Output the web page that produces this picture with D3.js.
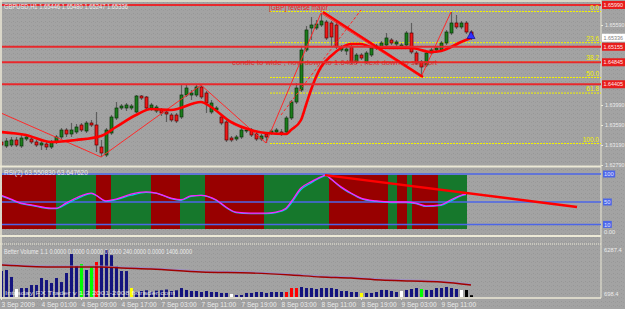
<!DOCTYPE html>
<html><head><meta charset="utf-8">
<script src="https://cdn.jsdelivr.net/npm/d3@7"></script>
<style>
html,body{margin:0;padding:0;background:#a3a3a3;overflow:hidden}
svg{display:block}
text{font-family:"Liberation Sans",Arial,sans-serif}
</style></head><body>
<svg id="c" width="625" height="309"></svg>
<script>
// ---------------- DATA ----------------
const symbolTitle = "GBPUSD,H1  1.65446 1.65480 1.65247 1.65336";
const timeLabels = ["3 Sep 2009","4 Sep 01:00","4 Sep 09:00","4 Sep 17:00","7 Sep 03:00","7 Sep 11:00","7 Sep 19:00","8 Sep 03:00","8 Sep 11:00","8 Sep 19:00","9 Sep 03:00","9 Sep 11:00"];
const timeTickBars = [0,8,16,24,32,40,48,56,64,72,80,88];
const priceTicks = [1.6559,1.6399,1.6359,1.6319,1.6279];

const open  = [1.6325,1.6317,1.6319,1.6329,1.6317,1.6331,1.6331,1.6325,1.6319,1.6321,1.6315,1.6325,1.6335,1.6349,1.6341,1.6345,1.6359,1.6347,1.6363,1.6359,1.6315,1.6299,1.6343,1.6373,1.6393,1.6393,1.6393,1.6385,1.6417,1.6415,1.6393,1.6387,1.6389,1.6385,1.6379,1.6379,1.6375,1.6419,1.6419,1.6419,1.6435,1.6423,1.6385,1.6389,1.6375,1.6365,1.6333,1.6331,1.6335,1.6347,1.6349,1.6341,1.6331,1.6341,1.6343,1.6345,1.6345,1.6345,1.6373,1.6405,1.6429,1.6509,1.6553,1.6553,1.6559,1.6565,1.6563,1.6559,1.6509,1.6507,1.6515,1.6485,1.6499,1.6485,1.6499,1.6513,1.6513,1.6519,1.6529,1.6521,1.6515,1.6519,1.6543,1.6503,1.6485,1.6479,1.6503,1.6509,1.6509,1.6523,1.6543,1.6563,1.6555,1.6563,1.6545];
const high  = [1.6331,1.6333,1.6335,1.6335,1.6339,1.6339,1.6335,1.6329,1.6327,1.6325,1.6329,1.6339,1.6353,1.6353,1.6363,1.6361,1.6363,1.6367,1.6369,1.6385,1.6329,1.6353,1.6379,1.6405,1.6401,1.6403,1.6401,1.6419,1.6419,1.6417,1.6403,1.6399,1.6393,1.6389,1.6383,1.6383,1.6439,1.6439,1.6429,1.6441,1.6439,1.6427,1.6409,1.6397,1.6379,1.6369,1.6337,1.6339,1.6353,1.6353,1.6353,1.6345,1.6341,1.6345,1.6351,1.6353,1.6351,1.6377,1.6409,1.6443,1.6515,1.6557,1.6575,1.6569,1.6583,1.6569,1.6567,1.6565,1.6519,1.6515,1.6519,1.6503,1.6503,1.6507,1.6517,1.6521,1.6527,1.6543,1.6533,1.6529,1.6523,1.6547,1.6563,1.6507,1.6489,1.6507,1.6513,1.6517,1.6527,1.6549,1.6585,1.6579,1.6567,1.6567,1.6549];
const low   = [1.6309,1.6313,1.6315,1.6315,1.6313,1.6327,1.6321,1.6315,1.6309,1.6309,1.6311,1.6321,1.6331,1.6335,1.6335,1.6341,1.6345,1.6343,1.6355,1.6305,1.6295,1.6295,1.6339,1.6369,1.6389,1.6387,1.6389,1.6383,1.6409,1.6389,1.6387,1.6383,1.6377,1.6365,1.6365,1.6363,1.6371,1.6415,1.6409,1.6415,1.6411,1.6383,1.6381,1.6385,1.6359,1.6325,1.6325,1.6327,1.6331,1.6343,1.6335,1.6327,1.6327,1.6323,1.6339,1.6341,1.6337,1.6341,1.6369,1.6401,1.6425,1.6505,1.6529,1.6549,1.6555,1.6529,1.6515,1.6511,1.6505,1.6499,1.6481,1.6481,1.6489,1.6481,1.6495,1.6509,1.6509,1.6515,1.6519,1.6517,1.6511,1.6515,1.6501,1.6479,1.6455,1.6475,1.6499,1.6505,1.6505,1.6519,1.6539,1.6551,1.6551,1.6541,1.6529];
const close = [1.6319,1.6327,1.6329,1.6319,1.6333,1.6335,1.6325,1.6319,1.6323,1.6315,1.6325,1.6335,1.6349,1.6341,1.6349,1.6355,1.6349,1.6363,1.6359,1.6319,1.6303,1.6349,1.6375,1.6393,1.6397,1.6399,1.6397,1.6417,1.6413,1.6393,1.6399,1.6395,1.6383,1.6381,1.6369,1.6367,1.6419,1.6433,1.6423,1.6435,1.6415,1.6403,1.6403,1.6393,1.6363,1.6329,1.6329,1.6335,1.6349,1.6349,1.6339,1.6331,1.6337,1.6335,1.6347,1.6349,1.6341,1.6373,1.6405,1.6433,1.6509,1.6549,1.6559,1.6561,1.6567,1.6533,1.6535,1.6515,1.6515,1.6511,1.6485,1.6499,1.6493,1.6503,1.6513,1.6517,1.6523,1.6533,1.6523,1.6525,1.6519,1.6543,1.6505,1.6483,1.6475,1.6503,1.6509,1.6513,1.6523,1.6545,1.6563,1.6555,1.6563,1.6545,1.6535];

// moving average (bar, price)
const maPoints = [[0,1.6345],[5,1.6339],[10,1.6325],[15,1.6329],[20,1.6337],[23,1.6355],[27,1.6379],[30,1.6391],[34,1.6389],[40,1.6405],[42,1.6395],[46,1.6365],[50,1.6349],[53,1.6343],[57,1.6341],[58,1.6349],[60,1.6369],[61,1.6399],[62,1.6429],[63,1.6455],[64,1.6475],[66,1.6497],[68,1.6513],[70,1.6521],[72,1.6521],[74,1.6515],[78,1.6513],[82,1.6513],[86,1.6505],[88,1.6507],[90,1.6515],[92,1.6525],[94,1.6533]];
const zigzag = [[0,1.6383],[20,1.6295],[40,1.6439],[53,1.6323],[64,1.6583],[84,1.6455],[90,1.6585]];
const downTrend = [[64.4,1.6585],[84.4,1.6455]];
const channelLine = [[56,1.6379],[72,1.6589]];
const hLevels = [1.6599,1.65155,1.64845,1.64405];
const hLevelLabels = ["1.65990","1.65155","1.64845","1.64405"];
const fibLevels = [0,23.6,38.2,50,61.8,100];
const fibHigh = 1.6587, fibLow = 1.6323, fibStartBar = 53.8;
const lastPrice = 1.65336;
const noteTop = "[GBP] reverse major";
const noteMid = "condic to wide , now down to 1.6480 , next down to support";

// RSI panel
const rsiTitle = "RSI(2) 63.550830 63.647620";
const rsiMain = [[0,62],[2,55],[4,48],[6,45],[10,39],[11,39],[13,48],[16,61],[18,66],[19,62],[21,52],[23,55],[26,64],[29,68],[31,66],[34,57],[36,54],[38,61],[40,62],[43,54],[45,41],[47,32],[50,30],[53,30],[55,32],[57,39],[58,50],[60,75],[62,86],[64,95],[65,98],[66,91],[68,77],[70,66],[72,57],[75,52],[78,50],[81,50],[83,48],[85,43],[88,45],[90,54],[92,62],[93,64]];
const rsiSignal = [[0,61],[2,54],[4,47],[6,44],[10,38],[11,38],[13,46],[16,59],[18,65],[19,62],[21,51],[23,54],[26,62],[29,67],[31,66],[34,56],[36,53],[38,60],[40,62],[43,53],[45,40],[47,31],[50,29],[53,29],[55,31],[57,37],[58,47],[60,72],[62,84],[64,94],[65,97],[66,91],[68,76],[70,65],[72,56],[75,51],[78,49],[81,49],[83,47],[85,42],[88,44],[90,52],[92,61],[93,63]];
const rsiLevels = [100,50,10];
const rsiZoneEdges = [0.2,11,19,22,30,35.8,40.8,52.6,65.6,77.4,79.2,81.2,82.2,87.4,93.2];
const rsiZoneKinds = ["r","g","r","g","r","g","r","g","r","g","r","g","r","g"];
const rsiTrend = [[64.8,98],[115.2,41]];

// Volume panel
const volTitle = "Better Volume 1.1 0.0000 0.0000 0.0000 0.0000 240.0000 0.0000 1406.0000";
const volume = [3480,3610,2680,1070,1200,1200,1600,1610,2540,2270,1870,2540,2000,3210,5750,4150,4410,3610,4010,4680,5620,6287,5600,4140,3480,3470,1200,670,800,900,700,850,900,1000,800,900,1200,940,800,800,670,800,670,670,540,540,400,270,270,540,540,670,670,540,670,670,670,670,1200,1200,1340,1200,1200,1070,1200,1200,1200,1070,800,800,670,670,540,540,540,670,940,940,800,670,800,940,1070,1200,1070,940,940,1200,1200,1340,1200,1070,940,940,240];
const volKind = "nnnwnnnnnnnnnnnngngrnnnnnnynnnnnnnnnnnnnnnnnnnwnnnnnnnnnnrrrnnnnnnnnnnnnynnnnnnnwnnngnnnnnnnw".split("");
const volMA = [[0,4280],[10,4010],[20,4010],[24,3880],[30,3750],[40,3350],[50,3210],[58,2940],[64,2680],[70,2540],[76,2270],[82,2140],[88,2010],[94,1600]];
const volTickLabels = ["6287.4","698.4"];
const volFooter = "Intraday FX Trader v 1.3 2001-2008 fxtrader.com";

// ---------------- DRAW ----------------
const W = 625, H = 309, AX = 601;
const svg = d3.select("#c");
const x  = d3.scaleLinear().domain([0,94]).range([1,471]);
const yP = d3.scaleLinear().domain([1.6279,1.6559]).range([165,25]);
const yR = d3.scaleLinear().domain([0,100]).range([230,174]);
const yV = d3.scaleLinear().domain([0,6287.4]).range([297,250]);
const frame = "#ece9d6", txt = "#ececec";
const FS = 5.8;

const defs = svg.append("defs");
const pat = defs.append("pattern").attr("id","tex").attr("width",4).attr("height",4).attr("patternUnits","userSpaceOnUse");
pat.append("rect").attr("x",1).attr("y",1).attr("width",1).attr("height",1).attr("fill","#969696");
pat.append("rect").attr("x",3).attr("y",2).attr("width",1).attr("height",1).attr("fill","#9a9a9a");
defs.append("clipPath").attr("id","cMain").append("rect").attr("x",2).attr("y",2).attr("width",AX-2).attr("height",164);
defs.append("clipPath").attr("id","cRsi").append("rect").attr("x",2).attr("y",169).attr("width",AX-2).attr("height",66);
defs.append("clipPath").attr("id","cVol").append("rect").attr("x",2).attr("y",245).attr("width",AX-2).attr("height",52);

svg.append("rect").attr("width",W).attr("height",H).attr("fill","#a3a3a3");
svg.append("rect").attr("width",W).attr("height",H).attr("fill","url(#tex)");

// frame lines
const fr = svg.append("g");
[[0,1,AX,1,1.5],[0,166.5,AX,166.5,2],[0,236,AX,236,2],[0,298,AX,298,1.5]].forEach(d=>{
  fr.append("line").attr("x1",d[0]).attr("y1",d[1]).attr("x2",d[2]).attr("y2",d[3]).attr("stroke",frame).attr("stroke-width",d[4]);
});
fr.append("line").attr("x1",0).attr("y1",244).attr("x2",AX).attr("y2",244).attr("stroke",frame).attr("stroke-dasharray","1,1");
fr.append("line").attr("x1",1).attr("y1",0).attr("x2",1).attr("y2",298).attr("stroke",frame).attr("stroke-width",1.5);
fr.append("line").attr("x1",AX).attr("y1",0).attr("x2",AX).attr("y2",298).attr("stroke",frame).attr("stroke-width",1);

// ---- main panel ----
const gm = svg.append("g").attr("clip-path","url(#cMain)");
fibLevels.forEach(l=>{
  const p = fibHigh - (fibHigh-fibLow)*l/100;
  gm.append("line").attr("x1",x(fibStartBar)).attr("x2",AX).attr("y1",yP(p)+0.5).attr("y2",yP(p)+0.5)
    .attr("stroke","#f2f200").attr("stroke-width",1).attr("stroke-dasharray","2,1");
});
const idx = d3.range(open.length);
gm.selectAll("line.wick").data(idx).join("line").attr("class","wick")
  .attr("x1",i=>x(i)+0.5).attr("x2",i=>x(i)+0.5).attr("y1",i=>yP(high[i])).attr("y2",i=>yP(low[i]))
  .attr("stroke","#5e5e5e").attr("stroke-width",1.2);
gm.selectAll("rect.body").data(idx).join("rect").attr("class","body")
  .attr("x",i=>x(i)-1).attr("width",3)
  .attr("y",i=>yP(Math.max(open[i],close[i])))
  .attr("height",i=>Math.max(1,Math.abs(yP(open[i])-yP(close[i]))))
  .attr("fill",i=>close[i]>=open[i]?"#1b7d1b":"#f01818")
  .attr("stroke",i=>close[i]>=open[i]?"#0a300a":"#5a0000").attr("stroke-width",0.7);
const lineP = d3.line().x(d=>x(d[0])).y(d=>yP(d[1]));
gm.append("path").attr("d",lineP(zigzag)).attr("fill","none").attr("stroke","#ff2a2a").attr("stroke-width",1);
gm.append("path").attr("d",lineP(channelLine)).attr("fill","none").attr("stroke","#ff2a2a").attr("stroke-width",1).attr("stroke-dasharray","3,2");
gm.append("path").attr("d",d3.line().x(d=>x(d[0])).y(d=>yP(d[1])).curve(d3.curveMonotoneX)(maPoints))
  .attr("fill","none").attr("stroke","#ff0000").attr("stroke-width",2.6);
hLevels.forEach(p=>{
  gm.append("line").attr("x1",2).attr("x2",AX).attr("y1",yP(p)).attr("y2",yP(p)).attr("stroke","#e8282c").attr("stroke-width",2);
});
gm.append("path").attr("d",lineP(downTrend)).attr("fill","none").attr("stroke","#ff0000").attr("stroke-width",2.4);
fibLevels.forEach(l=>{
  const p = fibHigh - (fibHigh-fibLow)*l/100;
  gm.append("text").attr("x",599).attr("y",yP(p)-1.5).attr("text-anchor","end").attr("font-size",6.5)
    .attr("fill","#f2f200").text(d3.format(".1f")(l));
});
gm.append("text").attr("x",269).attr("y",9.5).attr("font-size",6.5).attr("fill","#ee2020").text(noteTop);
gm.append("text").attr("x",232).attr("y",65).attr("font-size",7).attr("fill","#e02020").attr("opacity",0.85)
  .attr("textLength",205).attr("lengthAdjust","spacingAndGlyphs").text(noteMid);
const ax0 = x(94), ay0 = yP(1.6546);
gm.append("path").attr("d",`M${ax0},${ay0} l4,7 l-8,0 z`).attr("fill","#3030ff").attr("stroke","#000090").attr("stroke-width",0.6);
svg.append("text").attr("x",4).attr("y",9).attr("font-size",6.5).attr("fill",txt)
  .attr("textLength",124).attr("lengthAdjust","spacingAndGlyphs").text(symbolTitle);

// price axis
const pa = svg.append("g").attr("transform",`translate(${AX},0)`)
  .call(d3.axisRight(yP).tickValues(priceTicks).tickSize(2).tickPadding(2).tickFormat(d3.format(".5f")));
pa.select(".domain").remove();
pa.selectAll("line").attr("stroke",frame);
pa.selectAll("text").attr("fill",txt).attr("font-size",FS).attr("font-family","Liberation Sans")
  .attr("textLength",19.5).attr("lengthAdjust","spacingAndGlyphs");
hLevels.forEach((p,i)=>{
  svg.append("rect").attr("x",602).attr("y",yP(p)-4).attr("width",23).attr("height",8).attr("fill","#e81c1c");
  svg.append("text").attr("x",603.5).attr("y",yP(p)+2.1).attr("font-size",FS).attr("fill","#ffe8e8")
    .attr("textLength",19.5).attr("lengthAdjust","spacingAndGlyphs").text(hLevelLabels[i]);
});
svg.append("rect").attr("x",602).attr("y",yP(lastPrice)-4).attr("width",23).attr("height",8).attr("fill","#ffffff");
svg.append("text").attr("x",603.5).attr("y",yP(lastPrice)+2.1).attr("font-size",FS).attr("fill","#808080")
  .attr("textLength",19.5).attr("lengthAdjust","spacingAndGlyphs").text(d3.format(".5f")(lastPrice));

// ---- RSI panel ----
const gr = svg.append("g").attr("clip-path","url(#cRsi)");
rsiZoneKinds.forEach((k,i)=>{
  gr.append("rect").attr("x",x(rsiZoneEdges[i])).attr("width",x(rsiZoneEdges[i+1])-x(rsiZoneEdges[i]))
    .attr("y",yR(100)+1).attr("height",yR(0)-yR(100)-2).attr("fill",k==="r"?"#980000":"#16782c");
});
rsiLevels.forEach(l=>{
  gr.append("line").attr("x1",2).attr("x2",AX).attr("y1",yR(l)).attr("y2",yR(l)).attr("stroke","#4c66e8").attr("stroke-width",1.5);
});
const lineR = d3.line().x(d=>x(d[0])).y(d=>yR(d[1])).curve(d3.curveMonotoneX);
gr.append("path").attr("d",lineR(rsiSignal)).attr("fill","none").attr("stroke","#00d0f0").attr("stroke-width",1.2);
gr.append("path").attr("d",lineR(rsiMain)).attr("fill","none").attr("stroke","#ff20ff").attr("stroke-width",1.3);
gr.append("path").attr("d",d3.line().x(d=>x(d[0])).y(d=>yR(d[1]))(rsiTrend)).attr("fill","none").attr("stroke","#ff0000").attr("stroke-width",2.4);
svg.append("text").attr("x",4).attr("y",175).attr("font-size",6.5).attr("fill",txt).text(rsiTitle);
rsiLevels.forEach(l=>{
  const t = String(l);
  svg.append("rect").attr("x",603).attr("y",yR(l)-3.5).attr("width",t.length*3.4+2).attr("height",7).attr("fill","#4c66e8");
  svg.append("text").attr("x",604).attr("y",yR(l)+2.2).attr("font-size",FS).attr("fill","#e0e4ff").text(t);
});
svg.append("text").attr("x",604).attr("y",yR(0)+3.5).attr("font-size",FS).attr("fill",txt).text("0.00");

// ---- Volume panel ----
const gv = svg.append("g").attr("clip-path","url(#cVol)");
const vColor = {n:"#14147e", w:"#ffffff", g:"#00ff00", r:"#ff0000", y:"#ffff00"};
gv.selectAll("rect.vb").data(idx).join("rect").attr("class","vb")
  .attr("x",i=>x(i)-1).attr("width",3).attr("y",i=>yV(volume[i])).attr("height",i=>yV(0)-yV(volume[i]))
  .attr("fill",i=>vColor[volKind[i]]);
const lineV = d3.line().x(d=>x(d[0])).y(d=>yV(d[1])).curve(d3.curveMonotoneX);
gv.append("path").attr("d",lineV(volMA)).attr("fill","none").attr("stroke","#9a88c8").attr("stroke-width",1).attr("transform","translate(0,-1)");
gv.append("path").attr("d",lineV(volMA)).attr("fill","none").attr("stroke","#a00000").attr("stroke-width",1.4);
svg.append("text").attr("x",4).attr("y",254).attr("font-size",6.5).attr("fill",txt)
  .attr("textLength",188).attr("lengthAdjust","spacingAndGlyphs").text(volTitle);
svg.append("text").attr("x",5).attr("y",295).attr("font-size",6).attr("fill","#ffffff").attr("opacity",0.75)
  .attr("textLength",170).attr("lengthAdjust","spacingAndGlyphs").text(volFooter);
svg.append("text").attr("x",604).attr("y",yV(6287.4)+2).attr("font-size",FS).attr("fill",txt).text(volTickLabels[0]);
svg.append("text").attr("x",604).attr("y",296).attr("font-size",FS).attr("fill",txt).text(volTickLabels[1]);

// time axis
const ta = svg.append("g").attr("transform","translate(0,298)")
  .call(d3.axisBottom(x).tickValues(timeTickBars).tickSize(2).tickPadding(2).tickFormat((d,i)=>timeLabels[i]));
ta.select(".domain").remove();
ta.selectAll("line").attr("stroke",frame);
ta.selectAll("text").attr("text-anchor","start").attr("fill",txt).attr("font-size",6.5).attr("font-family","Liberation Sans").attr("dx",0);
</script>
</body></html>
